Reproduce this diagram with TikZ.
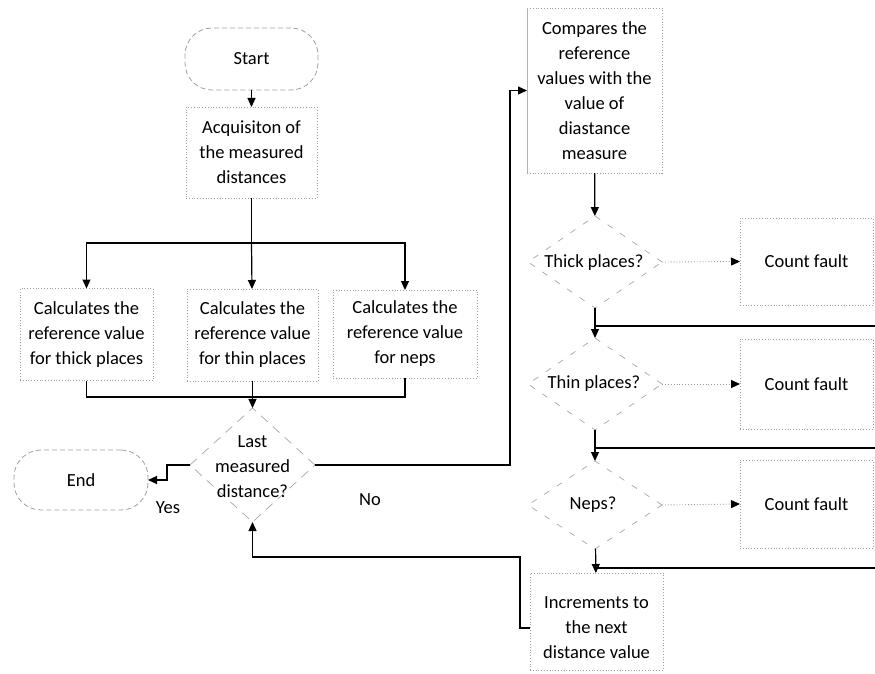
\documentclass[tikz,border=0pt]{standalone}
\usepackage{fontspec}
\setmainfont{Carlito}
\usetikzlibrary{shapes.geometric,arrows.meta}
\begin{document}
\begin{tikzpicture}[x=1pt,y=-1pt,
  font=\fontsize{18.5}{25}\selectfont,
  box/.style={draw=gray!75, dotted, line width=0.8pt, align=center, inner sep=0pt, outer sep=0pt},
  term/.style={box, dashed, dash pattern=on 5pt off 3pt, rounded corners=27pt},
  dia/.style={diamond, draw=gray!70, dash pattern=on 9pt off 7pt, line width=0.7pt, inner sep=0pt, outer sep=0pt},
  txt/.style={align=center, inner sep=0pt},
  line/.style={line width=1.2pt, black},
  conn/.style={line, -{Triangle[length=9pt,width=8pt]}},
  dotarrow/.style={draw=gray!80, dotted, line width=0.9pt, -{Triangle[length=9pt,width=8pt,color=black]}}
]
\useasboundingbox (0,0) rectangle (875,674);

% left part
\node[term, minimum width=133pt, minimum height=62pt] (start) at (251.5,59) {Start};
\node[box, minimum width=131pt, minimum height=91pt] (acq) at (251.5,152.5) {Acquisiton of\\the measured\\distances};
\node[box, minimum width=133pt, minimum height=92pt] (thick) at (86.5,334.5) {Calculates the\\reference value\\for thick places};
\node[box, minimum width=131pt, minimum height=92pt] (thin) at (252.5,335) {Calculates the\\reference value\\for thin places};
\node[box, minimum width=144pt, minimum height=88pt] (neps) at (405,334) {Calculates the\\reference value\\for neps};
\node[dia, minimum width=125pt, minimum height=114pt] (last) at (252.5,465) {};
\node[txt] (lastt) at (252.5,467) {Last\\measured\\distance?};
\node[term, minimum width=134pt, minimum height=60pt] (end) at (81,480) {End};
\node[txt] (yes) at (168,508) {Yes};
\node[txt] (no) at (370,500) {No};

% right part
\node[box, minimum width=135pt, minimum height=165pt] (cmp) at (594.5,90.5) {Compares the\\reference\\values with the\\value of\\diastance\\measure};
\draw[gray!60, line width=0.9pt] (cmp.north west) -- (cmp.south west);
\node[dia, minimum width=134pt, minimum height=92pt, dash pattern=on 6pt off 9pt] (d1) at (595,262) {};
\node[txt] (d1t) at (594,263) {Thick places?};
\node[dia, minimum width=134pt, minimum height=92pt, dash pattern=on 6pt off 9pt] (d2) at (595,384) {};
\node[txt] (d2t) at (594,384) {Thin places?};
\node[dia, minimum width=134pt, minimum height=88pt, dash pattern=on 6pt off 9pt] (d3) at (595,505) {};
\node[txt] (d3t) at (593,505) {Neps?};
\node[box, minimum width=133pt, minimum height=87pt] (cf1) at (806.5,261.5) {Count fault};
\node[box, minimum width=133pt, minimum height=90pt] (cf2) at (806.5,384) {Count fault};
\node[box, minimum width=133pt, minimum height=88pt] (cf3) at (806.5,504) {Count fault};
\node[box, minimum width=133pt, minimum height=97pt] (incr) at (596.5,621.5) {};
\node[txt] (incrt) at (596.5,628) {Increments to\\the next\\distance value};

% junction coordinates
\coordinate (split) at (251.5,243);
\coordinate (merge) at (252.5,397);
\coordinate (r1) at (875,326);
\coordinate (j1) at (595,326);
\coordinate (r2) at (875,448);
\coordinate (j2) at (595,448);
\coordinate (r3) at (875,568);
\coordinate (j3) at (595,568);
\coordinate (lp) at (530,628);
\coordinate (lb) at (252.5,557);
\coordinate (nb) at (510,465);

% connectors left
\draw[conn] (start) -- (acq);
\draw[line] (acq) -- (split);
\draw[conn] (split) -| (thick);
\draw[conn] (split) -- (thin);
\draw[conn] (split) -| (neps);
\draw[line] (thick) |- (merge);
\draw[line] (neps) |- (merge);
\draw[conn] (thin) -- (last);
\draw[conn] (last.west) -- ++(-23,0) |- (end);
\draw[conn] (last.east) -- (nb) |- (cmp);

% connectors right
\draw[conn] (cmp) -- (d1);
\draw[dotarrow] (d1.east) -- (cf1.west);
\draw[conn] (d1) -- (d2);
\draw[line] (r1) -- (j1);
\draw[dotarrow] (d2.east) -- (cf2.west);
\draw[conn] (d2) -- (d3);
\draw[line] (r2) -- (j2);
\draw[dotarrow] (d3.east) -- (cf3.west);
\draw[conn] (d3) -- (incr);
\draw[line] (r3) -- (j3);
\draw[conn] (lp) -- ++(-10,0) |- (lb) -- (last.south);
\end{tikzpicture}
\end{document}
